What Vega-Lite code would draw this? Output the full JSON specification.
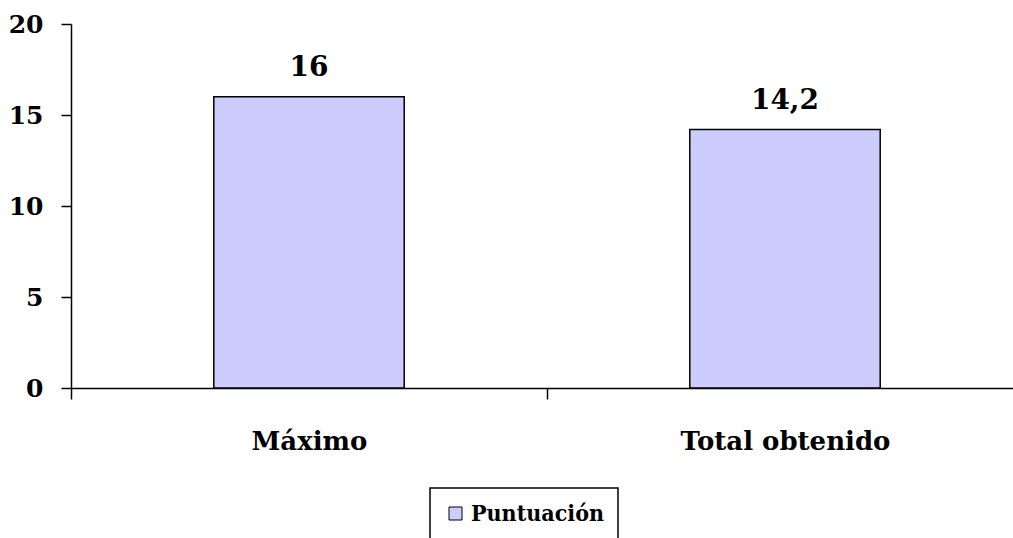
{
  "$schema": "https://vega.github.io/schema/vega-lite/v6.json",
  "autosize": "none",
  "padding": {"left": 71, "top": 24, "right": 0, "bottom": 150},
  "width": 952,
  "height": 364,
  "background": "white",
  "config": {
    "view": {"stroke": null},
    "locale": {"number": {"decimal": ",", "thousands": ".", "grouping": [3], "currency": ["", " €"]}},
    "font": "DejaVu Serif"
  },
  "data": {"values": [
    {"categoria": "Máximo", "valor": 16, "serie": "Puntuación"},
    {"categoria": "Total obtenido", "valor": 14.2, "serie": "Puntuación"}
  ]},
  "encoding": {
    "x": {
      "field": "categoria", "type": "nominal", "sort": null,
      "scale": {"paddingInner": 0, "paddingOuter": 0},
      "axis": {
        "title": null, "labelAngle": 0, "tickBand": "extent", "labelLimit": 0,
        "domainColor": "black", "domainWidth": 1.5, "tickColor": "black", "tickWidth": 1.5, "tickSize": 11,
        "labelFont": "DejaVu Serif", "labelFontSize": 26, "labelFontWeight": "bold", "labelColor": "black",
        "labelPadding": 29
      }
    },
    "y": {
      "field": "valor", "type": "quantitative",
      "scale": {"domain": [0, 20], "nice": false},
      "axis": {
        "title": null, "values": [0, 5, 10, 15, 20], "grid": false,
        "domainColor": "black", "domainWidth": 1.5, "tickColor": "black", "tickWidth": 1.5, "tickSize": 10,
        "labelFont": "DejaVu Serif", "labelFontSize": 25, "labelFontWeight": "bold", "labelColor": "black",
        "labelPadding": 18
      }
    }
  },
  "layer": [
    {
      "mark": {"type": "bar", "stroke": "black", "strokeWidth": 1.5, "width": {"band": 0.4}},
      "encoding": {
        "fill": {
          "field": "serie", "type": "nominal",
          "scale": {"range": ["#CCCCFF"]},
          "legend": {
            "title": null, "orient": "none", "legendX": 359, "legendY": 464,
            "strokeColor": "black", "padding": 14,
            "symbolType": "square", "symbolSize": 169, "symbolStrokeColor": "black", "symbolStrokeWidth": 1,
            "labelFont": "DejaVu Serif Condensed", "labelFontSize": 23, "labelFontWeight": "bold", "labelColor": "black",
            "labelOffset": 4,
            "encode": {"legend": {"update": {"strokeWidth": {"value": 1.5}}}}
          }
        }
      }
    },
    {
      "mark": {"type": "text", "dy": -21, "baseline": "alphabetic", "font": "DejaVu Serif", "fontSize": 28, "fontWeight": "bold", "color": "black"},
      "encoding": {
        "text": {"field": "valor", "type": "quantitative", "format": ".2~f"}
      }
    }
  ]
}
